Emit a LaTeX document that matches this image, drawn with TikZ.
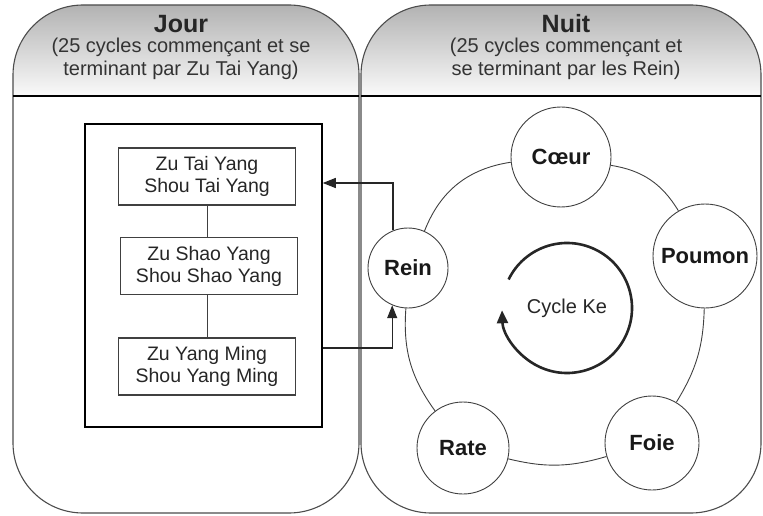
\documentclass[tikz,border=0pt]{standalone}
\usepackage{fontspec}
\setmainfont{Liberation Sans}
\usetikzlibrary{arrows.meta}

\begin{document}
\begin{tikzpicture}[x=1pt, y=1pt,
	panneau/.style={draw=black!70, line width=1.1pt, rounded corners=70pt},
	entete/.style={top color=black!30, bottom color=black!2},
	titre/.style={anchor=base, font=\fontsize{25}{28}\selectfont\bfseries, text=black!85},
	soustitre/.style={anchor=base, align=center, font=\fontsize{20}{23}\selectfont, text=black!80},
	meridien/.style={draw=black!75, line width=1.1pt, minimum width=177pt, minimum height=57pt, inner sep=0pt, align=center, font=\fontsize{19.5}{22}\selectfont, text=black!85},
	organe/.style={circle, draw=black!75, line width=0.9pt, inner sep=0pt, font=\fontsize{22}{24}\selectfont\bfseries, text=black!90},
	lien/.style={draw=black!75, line width=0.9pt},
	fleche/.style={draw=black!85, line width=1.4pt, -{Triangle[length=13pt, width=10pt]}}]
	\useasboundingbox (0,0) rectangle (763,515);

	% les deux panneaux
	\begin{scope}
		\clip [rounded corners=70pt] (13,2) rectangle (359,510);
		\shade [entete] (13,419) rectangle (359,510);
	\end{scope}
	\begin{scope}
		\clip [rounded corners=70pt] (361,2) rectangle (761,510);
		\shade [entete] (361,419) rectangle (761,510);
	\end{scope}
	\draw [panneau] (13,2) rectangle (359,510);
	\draw [panneau] (361,2) rectangle (761,510);
	\draw [line width=2.4pt] (13,419) -- (359,419);
	\draw [line width=2.4pt] (361,419) -- (761,419);

	\node [titre] (jour) at (181,482) {Jour};
	\node [soustitre] (jourtxt) at (181,439) {(25 cycles commençant et se\\terminant par Zu Tai Yang)};
	\node [titre] (nuit) at (566,482) {Nuit};
	\node [soustitre] (nuittxt) at (566,439) {(25 cycles commençant et\\se terminant par les Rein)};

	% jour
	\node [draw, line width=1.5pt, minimum width=237pt, minimum height=303pt, inner sep=0pt] (cadre) at (203.5,239.5) {};
	\node [meridien] (taiyang) at (207,338.5) {Zu Tai Yang\\Shou Tai Yang};
	\node [meridien] (shaoyang) at (209,249) {Zu Shao Yang\\Shou Shao Yang};
	\node [meridien] (yangming) at (207,148.5) {Zu Yang Ming\\Shou Yang Ming};

	\draw [lien] (taiyang.south) -- (taiyang.south |- shaoyang.north);
	\draw [lien] (yangming.north) -- (yangming.north |- shaoyang.south);

	% nuit
	\node [organe, minimum size=80pt] (rein) at (408,247) {Rein};
	\node [organe, minimum size=100pt] (coeur) at (561,358) {Cœur};
	\node [organe, minimum size=104pt] (poumon) at (705,259) {Poumon};
	\node [organe, minimum size=94pt] (foie) at (652,72) {Foie};
	\node [organe, minimum size=92pt] (rate) at (463,67) {Rate};

	\draw [lien] (rein) to [bend left=30] (coeur);
	\draw [lien] (coeur) to [bend left=25] (poumon);
	\draw [lien] (poumon) to [bend left=15] (foie);
	\draw [lien] (foie) to [bend left=15] (rate);
	\draw [lien] (rate) to [bend left=20] (rein);

	\node [font=\fontsize{20}{22}\selectfont, text=black!85] (ke) at (567,207) {Cycle Ke};
	\draw [draw=black!85, line width=2.6pt, -{Triangle[length=13pt, width=11pt]}] (ke.center) ++(154:65) arc [start angle=154, end angle=-178, radius=65];

	\draw [fleche] (rein.112) |- (cadre.east |- 0,332);
	\draw [fleche] (cadre.east |- 0,167) -| (rein.247);
\end{tikzpicture}
\end{document}
